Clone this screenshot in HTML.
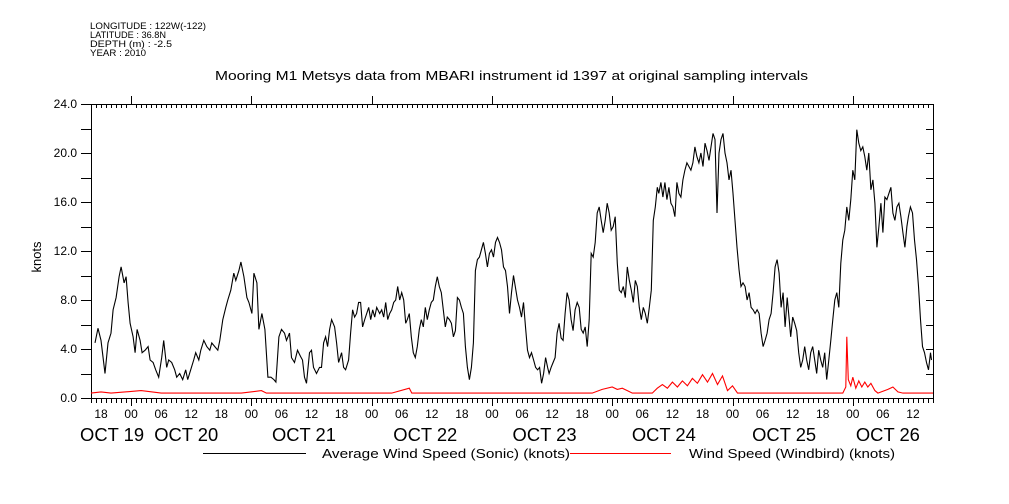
<!DOCTYPE html>
<html><head><meta charset="utf-8"><style>
html,body{margin:0;padding:0;background:#fff;}
svg{display:block;font-family:"Liberation Sans",sans-serif;}
</style></head><body>
<svg id="chart" width="1009" height="504" viewBox="0 0 1009 504" xmlns="http://www.w3.org/2000/svg">
<g font-size="9" fill="#000">
<text x="90" y="29" textLength="116" lengthAdjust="spacingAndGlyphs">LONGITUDE : 122W(-122)</text>
<text x="90" y="38" textLength="76" lengthAdjust="spacingAndGlyphs">LATITUDE : 36.8N</text>
<text x="90" y="47" textLength="82" lengthAdjust="spacingAndGlyphs">DEPTH (m) : -2.5</text>
<text x="90" y="56" textLength="56" lengthAdjust="spacingAndGlyphs">YEAR : 2010</text>
</g>
<text x="215" y="80" textLength="593" lengthAdjust="spacingAndGlyphs" font-size="13">Mooring M1 Metsys data from MBARI instrument id 1397 at original sampling intervals</text>
<text transform="translate(41,257) rotate(-90)" text-anchor="middle" font-size="13">knots</text>
<g id="axes"></g>
<g id="series"></g>
<g font-size="13">
<line x1="203" y1="453.5" x2="306" y2="453.5" stroke="#000" stroke-width="1"/>
<text x="322" y="458" textLength="248" lengthAdjust="spacingAndGlyphs">Average Wind Speed (Sonic) (knots)</text>
<line x1="570" y1="453.5" x2="671" y2="453.5" stroke="#f00" stroke-width="1"/>
<text x="689" y="458" textLength="206" lengthAdjust="spacingAndGlyphs">Wind Speed (Windbird) (knots)</text>
</g>
</svg>
<script>
// hours since Oct 19 16:00
const sonicTimes = [0.8,1.4,2.0,2.8,3.4,4.0,4.4,5.0,5.6,6.0,6.6,7.0,7.4,7.8,8.4,8.8,9.2,9.8,10.2,10.8,11.4,11.8,12.4,12.9,13.5,14.1,14.5,15.1,15.5,16.1,16.7,17.1,17.7,18.3,18.9,19.3,19.9,20.5,20.9,21.5,21.9,22.5,23.1,23.7,24.1,24.7,25.3,25.7,26.3,26.9,27.3,27.9,28.5,28.9,29.5,29.9,30.5,31.1,31.5,32.1,32.5,33.1,33.5,34.1,34.7,35.3,35.9,36.5,36.9,37.5,38.0,38.6,39.0,39.6,40.0,40.6,41.2,41.8,42.2,42.6,43.0,43.6,44.0,44.4,45.0,45.6,46.0,
46.4,46.8,47.2,47.6,48.0,48.6,49.0,49.4,50.0,50.4,50.8,51.4,51.8,52.2,52.6,53.0,53.4,53.8,54.2,54.6,55.0,55.4,55.8,56.2,56.6,57.0,57.6,58.0,58.4,58.8,59.2,59.6,60.0,60.4,60.8,61.2,61.6,62.0,62.4,62.8,63.1,63.5,63.9,64.3,64.7,65.1,65.5,65.9,66.3,66.7,67.1,67.5,67.9,68.3,68.7,69.1,69.5,69.9,70.3,70.7,71.1,71.5,71.9,72.3,72.7,73.1,73.5,73.9,74.3,74.7,75.1,75.5,75.9,76.3,76.7,77.1,77.5,77.9,78.3,78.7,79.1,79.5,79.9,80.3,80.7,81.1,81.5,81.9,82.3,82.7,83.1,83.5,83.9,
84.3,84.7,85.1,85.5,85.9,86.3,86.7,87.1,87.5,87.9,88.3,88.7,89.1,89.5,89.9,90.3,90.7,91.1,91.4,91.8,92.2,92.6,93.0,93.4,93.8,94.2,94.6,95.0,95.4,95.8,96.2,96.6,97.0,97.4,97.8,98.2,98.6,99.0,99.4,99.8,100.2,100.6,101.0,101.4,101.8,102.2,102.6,103.0,103.4,103.8,104.2,104.6,105.0,105.4,105.8,106.2,106.6,107.0,107.4,107.8,108.2,108.6,109.0,109.4,109.8,110.2,110.6,111.0,111.4,111.8,112.2,112.6,113.0,113.3,113.7,114.1,114.5,114.9,115.3,115.7,116.1,116.5,116.9,117.3,117.7,118.1,118.5,118.9,119.3,119.7,120.1,120.5,120.9,121.3,121.7,122.1,122.5,122.9,123.3,123.7,124.1,124.5,124.9,125.3,125.7,126.1,126.5,126.9,127.3,127.7,128.1,128.5,128.9,129.3,129.7,130.1,130.5,130.9,131.3,131.7,132.1,132.5,132.9,133.3,133.7,134.1,134.5,134.9,135.3,135.7,136.1,136.5,136.9,137.3,137.7,138.1,138.5,138.9,139.3,139.6,140.0,140.4,140.8,141.2,141.6,142.0,142.4,142.8,143.2,143.6,144.0,144.4,144.8,145.2,145.6,146.0,146.4,146.8,147.2,147.6,148.0,148.4,148.8,149.2,149.6,150.0,150.4,150.8,151.2,151.6,152.0,152.4,152.8,153.2,153.6,154.0,154.4,154.8,155.2,155.6,156.0,156.4,156.8,157.2,157.6,158.0,158.4,158.8,159.2,159.6,160.0,160.4,160.8,161.2,161.6,162.0,162.4,162.8,163.1,163.5,163.9,164.3,164.7,165.1,165.5,165.9,166.3,166.7,167.1,167.5,167.7];
const sonicValues = [4.5,5.7,4.7,2.0,4.5,5.3,7.2,8.2,9.9,10.7,9.4,9.9,7.8,6.1,5.0,3.7,5.6,4.7,3.7,3.9,4.2,3.1,2.9,2.3,1.7,3.3,4.7,2.5,3.1,2.9,2.3,1.7,2.0,1.5,2.3,1.5,2.3,3.1,3.7,3.1,3.9,4.7,4.2,3.9,4.5,4.2,3.9,4.7,6.4,7.4,8.0,8.8,10.2,9.6,10.4,11.1,9.9,8.2,7.8,6.9,10.2,9.4,5.6,6.9,5.6,1.7,1.7,1.5,1.3,5.0,5.6,5.3,4.7,5.3,3.3,2.9,3.9,3.4,3.1,1.7,1.2,3.7,3.9,2.5,2.0,2.5,2.5,
4.5,5.0,4.2,5.6,6.4,5.8,4.5,2.9,3.7,2.5,2.3,3.1,5.3,7.2,6.6,6.9,7.8,7.8,5.8,6.4,6.9,7.4,6.4,7.2,6.6,7.4,6.9,7.2,6.6,7.8,6.4,6.9,7.2,7.8,8.0,9.1,8.0,8.6,8.0,6.1,6.4,6.9,5.0,3.7,3.3,4.2,5.6,6.4,5.8,7.4,6.4,7.2,7.8,8.0,9.1,9.9,9.1,8.6,7.2,5.8,6.6,6.4,6.1,5.0,5.5,8.2,8.0,7.4,6.9,4.2,2.5,1.5,2.5,4.5,10.4,11.3,11.5,12.1,12.7,11.8,10.7,11.8,12.1,11.5,12.7,13.1,12.7,12.1,10.7,10.4,9.1,6.9,8.6,
10.0,9.0,8.0,7.4,6.6,7.8,5.8,3.9,3.3,3.7,3.1,2.5,2.3,2.5,1.2,2.0,3.3,2.5,2.0,2.5,2.9,3.3,5.3,6.1,4.9,4.7,6.9,8.6,8.0,6.4,5.5,7.2,7.8,7.4,5.6,5.3,5.8,4.2,6.4,11.8,11.5,12.7,15.1,15.6,14.5,13.5,14.5,15.9,15.1,13.7,14.0,14.8,11.0,8.8,8.6,9.1,8.2,10.7,9.6,8.8,7.8,9.6,9.1,7.4,6.4,7.4,6.9,6.1,7.4,8.8,14.5,15.6,17.2,16.7,17.6,16.4,17.6,16.2,17.2,15.9,15.6,14.8,17.6,16.7,16.4,17.8,18.6,19.2,18.9,18.6,19.2,20.5,19.7,19.2,20.0,18.9,20.8,20.2,19.4,20.5,21.6,21.1,15.1,20.0,21.1,21.6,20.0,19.2,17.8,18.6,16.7,14.5,12.3,10.5,9.1,9.4,9.1,8.0,8.6,7.4,7.2,6.9,7.2,6.9,5.3,4.2,4.7,5.3,6.4,6.9,8.6,10.7,11.3,10.2,7.4,8.6,5.8,8.2,6.4,5.0,6.6,6.1,5.5,3.7,2.5,3.1,4.2,3.1,2.3,3.7,4.2,3.1,2.0,3.9,3.1,2.5,3.7,1.5,3.1,4.7,6.4,8.0,8.6,7.4,11.0,12.9,13.7,15.6,14.5,16.2,18.6,17.8,21.9,20.8,20.2,20.5,19.7,18.6,20.0,17.0,17.8,15.9,12.3,14.0,15.9,13.5,16.4,16.2,16.7,17.2,15.1,14.5,15.6,15.9,14.8,13.5,12.3,14.0,14.8,15.6,15.1,12.9,11.3,9.1,6.4,4.2,3.7,2.9,2.3,3.7,3.1];
const windbirdTimes = [0,2,4,10,14,30,34,35,60,63.5,64,100,102,104,105,106,107,108,112,113,114,115,116,117,118,119,120,121,122,123,124,125,126,127,128,129,150,150.6,150.8,151.1,151.6,152,152.6,153.2,153.8,154.4,155,155.6,156.4,157,159,160,161,162,168];
const windbirdValues = [0.4,0.5,0.4,0.6,0.4,0.4,0.6,0.4,0.4,0.8,0.4,0.4,0.7,0.9,0.7,0.8,0.6,0.4,0.4,0.8,1.1,0.8,1.3,0.9,1.4,1.0,1.6,1.2,1.9,1.3,2.0,1.1,1.8,0.6,1.0,0.4,0.4,0.9,5.0,1.5,1.0,1.7,0.8,1.4,0.9,1.3,0.9,1.2,0.6,0.4,0.7,0.9,0.5,0.4,0.4];
const yTickValues = [0,4,8,12,16,20,24];
const hourLabels = ["18","00","06","12","18","00","06","12","18","00","06","12","18","00","06","12","18","00","06","12","18","00","06","12","18","00","06","12"];
const dateLabels = ["OCT 19","OCT 20","OCT 21","OCT 22","OCT 23","OCT 24","OCT 25","OCT 26"];
const dateLabelHours = [4.2,19,42.5,66.7,90.5,114.3,138.3,159];

const X0=91,X1=933,Y0=398,Y1=104,TMAX=168,VMAX=24;
const xs=t=>X0+(t/TMAX)*(X1-X0);
const ys=v=>Y0-(v/VMAX)*(Y0-Y1);
const NS="http://www.w3.org/2000/svg";
const axes=document.getElementById('axes'), series=document.getElementById('series');
function mk(tag,attrs,parent){const e=document.createElementNS(NS,tag);for(const k in attrs)e.setAttribute(k,attrs[k]);parent.appendChild(e);return e;}

const frame=mk('rect',{x:X0+0.5,y:Y1+0.5,width:X1-X0,height:Y0-Y1,fill:'none',stroke:'#000','stroke-width':1},axes);



let tp='';
for(let t=0;t<=TMAX;t++){
  const x=Math.round(xs(t))+0.5; const h=(t+16)%24;
  if(h===0){tp+=`M${x} ${Y1}V${Y1-8}M${x} ${Y0}V${Y0+8}`;}
  else{tp+=`M${x} ${Y1}V${Y1+4}M${x} ${Y0}V${Y0+5}`;}
}
const xt=mk('path',{d:tp,stroke:'#000','stroke-width':1,fill:'none'},axes);



let yp='';
for(let v=0;v<=VMAX;v+=2){const y=Math.round(ys(v))+0.5;yp+=`M${X0-10} ${y}H${X0}M${X1} ${y}H${X1-7}`;}
const yt=mk('path',{d:yp,stroke:'#000','stroke-width':1,fill:'none'},axes);



yTickValues.forEach(v=>{
  const t=mk('text',{x:77,y:ys(v)+4,'text-anchor':'end','font-size':12},axes);
  t.textContent=v.toFixed(1);
  
  
});
hourLabels.forEach((lab,i)=>{
  const t=mk('text',{x:xs(2+6*i),y:418,'text-anchor':'middle','font-size':12},axes);
  t.textContent=lab;
  
  
});
dateLabels.forEach((lab,i)=>{
  const t=mk('text',{x:xs(dateLabelHours[i])-32,y:441,'font-size':18,textLength:64,lengthAdjust:'spacingAndGlyphs'},axes);
  t.textContent=lab;
  
  
});

function line(times,vals,color,name){
  const d=times.map((t,i)=>(i?'L':'M')+xs(t).toFixed(1)+' '+ys(vals[i]).toFixed(1)).join('');
  const p=mk('path',{d:d,stroke:color,'stroke-width':1.1,fill:'none'},series);
  
  
}
line(windbirdTimes,windbirdValues,'#f00','windbird-wind-speed-line');
line(sonicTimes,sonicValues,'#000','sonic-average-wind-speed-line');
</script>
</body></html>
